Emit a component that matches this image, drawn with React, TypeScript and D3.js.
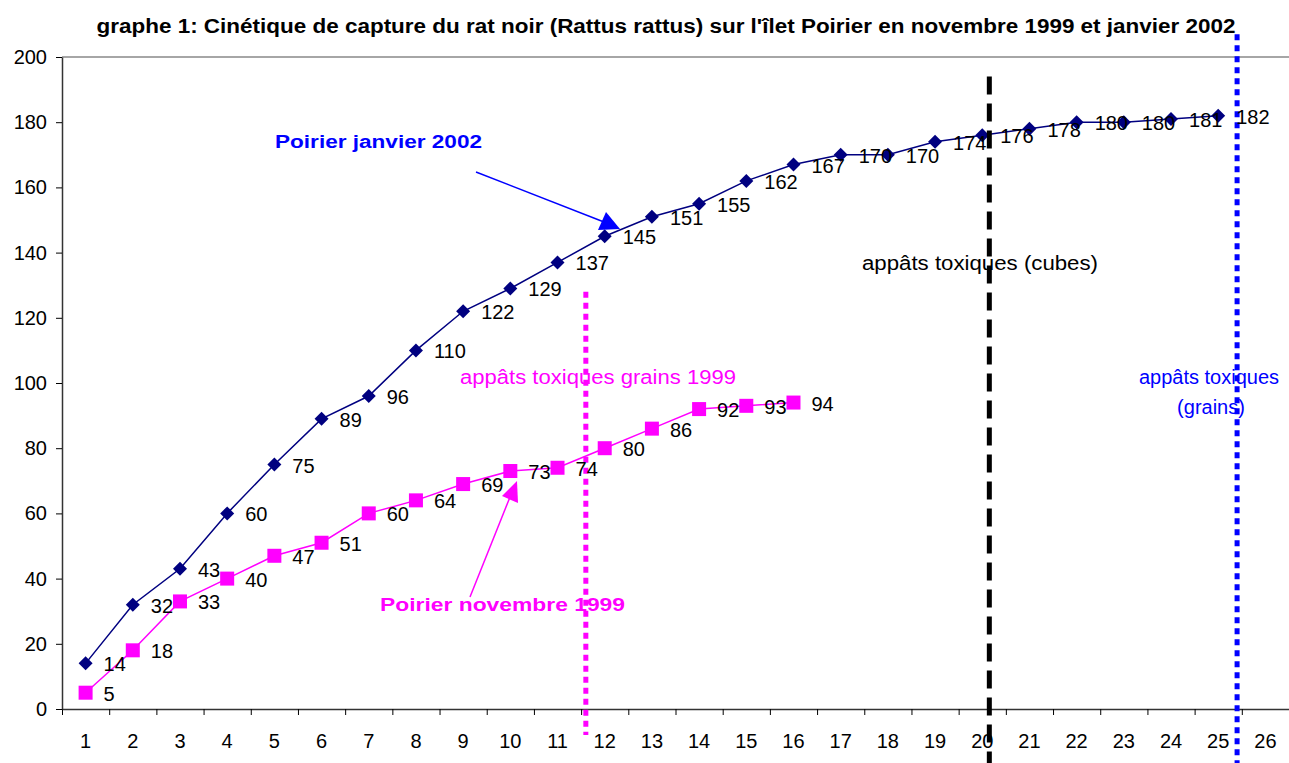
import { useEffect, useRef } from "react";
import * as d3 from "d3";

const width = 1289;
const height = 763;
const marginTop = 57;
const marginBottom = 54;
const marginLeft = 62;
const marginRight = 0;

const titleText =
  "graphe 1: Cinétique de capture du rat noir (Rattus rattus) sur l'îlet Poirier en novembre 1999 et janvier 2002";

const days = d3.range(1, 27);
const yTicks = [0, 20, 40, 60, 80, 100, 120, 140, 160, 180, 200];

// captures cumulées
const janvier2002 = [14, 32, 43, 60, 75, 89, 96, 110, 122, 129, 137, 145, 151, 155, 162, 167, 170, 170, 174, 176, 178, 180, 180, 181, 182];
const novembre1999 = [5, 18, 33, 40, 47, 51, 60, 64, 69, 73, 74, 80, 86, 92, 93, 94];

// lignes verticales (position en jour, bornes en valeur)
const grains1999Line = { x: 11.6, y0: 128, y1: -8 };
const cubesLine = { x: 20.15, y0: 194, y1: -17 };
const grainsLine = { x: 25.4, y0: 207, y1: -17 };

const App = () => {
  const ref = useRef<SVGSVGElement>(null);

  const xScale = d3
    .scaleLinear()
    .domain([0.5, 26.5])
    .range([marginLeft, width - marginRight]);

  const yScale = d3
    .scaleLinear()
    .domain([0, 200])
    .range([height - marginBottom, marginTop]);

  const bottomY = height - marginBottom;

  useEffect(() => {
    const svg = d3.select(ref.current);
    const xAxis = d3
      .axisBottom(xScale)
      .tickValues(d3.range(0.5, 27, 1))
      .tickFormat(() => "")
      .tickSize(6)
      .tickSizeOuter(0);
    svg.select<SVGGElement>(".x-axis").call(xAxis);
    svg.select(".x-axis").select(".domain").attr("stroke", "#333").attr("stroke-width", 1.5);

    const yAxis = d3
      .axisLeft(yScale)
      .tickValues(yTicks)
      .tickSize(6)
      .tickSizeOuter(0)
      .tickPadding(9);
    svg.select<SVGGElement>(".y-axis").call(yAxis);
    svg.select(".y-axis").select(".domain").attr("stroke", "#333").attr("stroke-width", 1.5);
    svg
      .select(".y-axis")
      .selectAll("text")
      .attr("font-size", "20px")
      .attr("font-family", "Liberation Sans, Arial, sans-serif")
      .attr("fill", "#000");
  }, []);

  const line = d3
    .line<number>()
    .x((_, i) => xScale(i + 1))
    .y((d) => yScale(d));

  const diamond = "M0,-7L7,0L0,7L-7,0Z";

  const labelFont = "Liberation Sans, Arial, sans-serif";

  return (
    <svg
      ref={ref}
      width={width}
      height={height}
      viewBox={`0 0 ${width} ${height}`}
      style={{ position: "absolute", left: 0, top: 0, background: "#fff" }}
      fontFamily={labelFont}
    >
      <text
        x={666}
        y={33}
        textAnchor="middle"
        fontSize={20}
        fontWeight="bold"
        textLength={1139}
        lengthAdjust="spacingAndGlyphs"
      >
        {titleText}
      </text>

      {/* ligne du haut à 200 */}
      <line x1={marginLeft} x2={width} y1={yScale(200)} y2={yScale(200)} stroke="#888" strokeWidth={1.5} />

      <g className="x-axis" transform={`translate(0,${bottomY})`}></g>
      <g className="y-axis" transform={`translate(${marginLeft},0)`}></g>

      {days.map((d) => (
        <text key={d} x={xScale(d)} y={bottomY + 39} textAnchor="middle" fontSize={20}>
          {d}
        </text>
      ))}

      {/* série janvier 2002 */}
      <path d={line(janvier2002) ?? ""} fill="none" stroke="#000080" strokeWidth={1.5} />
      {janvier2002.map((v, i) => (
        <path
          key={i}
          d={diamond}
          transform={`translate(${xScale(i + 1)},${yScale(v)})`}
          fill="#000080"
        />
      ))}

      {/* série novembre 1999 */}
      <path d={line(novembre1999) ?? ""} fill="none" stroke="#ff00ff" strokeWidth={1.5} />
      {novembre1999.map((v, i) => (
        <rect
          key={i}
          x={xScale(i + 1) - 7}
          y={yScale(v) - 7}
          width={14}
          height={14}
          fill="#ff00ff"
        />
      ))}

      {/* lignes verticales */}
      <line
        x1={xScale(grains1999Line.x)}
        x2={xScale(grains1999Line.x)}
        y1={yScale(grains1999Line.y0)}
        y2={yScale(grains1999Line.y1)}
        stroke="#ff00ff"
        strokeWidth={5}
        strokeDasharray="6 5"
      />
      <line
        x1={xScale(cubesLine.x)}
        x2={xScale(cubesLine.x)}
        y1={yScale(cubesLine.y0)}
        y2={yScale(cubesLine.y1)}
        stroke="#000"
        strokeWidth={5}
        strokeDasharray="18 9"
      />
      <line
        x1={xScale(grainsLine.x)}
        x2={xScale(grainsLine.x)}
        y1={yScale(grainsLine.y0)}
        y2={yScale(grainsLine.y1)}
        stroke="#0000ff"
        strokeWidth={5}
        strokeDasharray="6 5"
      />

      {/* étiquettes de valeurs */}
      {janvier2002.map((v, i) => (
        <text
          key={`j${i}`}
          x={xScale(i + 1) + 18}
          y={yScale(v) + 1}
          dominantBaseline="central"
          fontSize={20}
        >
          {v}
        </text>
      ))}
      {novembre1999.map((v, i) => (
        <text
          key={`n${i}`}
          x={xScale(i + 1) + 18}
          y={yScale(v) + 1}
          dominantBaseline="central"
          fontSize={20}
        >
          {v}
        </text>
      ))}

      {/* annotations */}
      <text x={862} y={270} fontSize={20} fill="#000" textLength={236} lengthAdjust="spacingAndGlyphs">
        appâts toxiques (cubes)
      </text>
      <text x={460} y={384} fontSize={20} fill="#ff00ff" textLength={276} lengthAdjust="spacingAndGlyphs">
        appâts toxiques grains 1999
      </text>
      <text x={1209} y={384} fontSize={20} fill="#0000ff" textAnchor="middle">
        appâts toxiques
      </text>
      <text x={1211} y={414} fontSize={20} fill="#0000ff" textAnchor="middle">
        (grains)
      </text>

      <text x={275} y={148} fontSize={18} fontWeight="bold" fill="#0000ff" textLength={207} lengthAdjust="spacingAndGlyphs">
        Poirier janvier 2002
      </text>
      <line x1={476} y1={172} x2={604} y2={222} stroke="#0000ff" strokeWidth={1.5} />
      <path d="M620,229 L598,230 L606,212 Z" fill="#0000ff" />

      <text x={380} y={611} fontSize={18} fontWeight="bold" fill="#ff00ff" textLength={245} lengthAdjust="spacingAndGlyphs">
        Poirier novembre 1999
      </text>
      <line x1={470} y1={597} x2={510} y2={497} stroke="#ff00ff" strokeWidth={1.5} />
      <path d="M517,481 L518,503 L502,496 Z" fill="#ff00ff" />
    </svg>
  );
};

export default App;
